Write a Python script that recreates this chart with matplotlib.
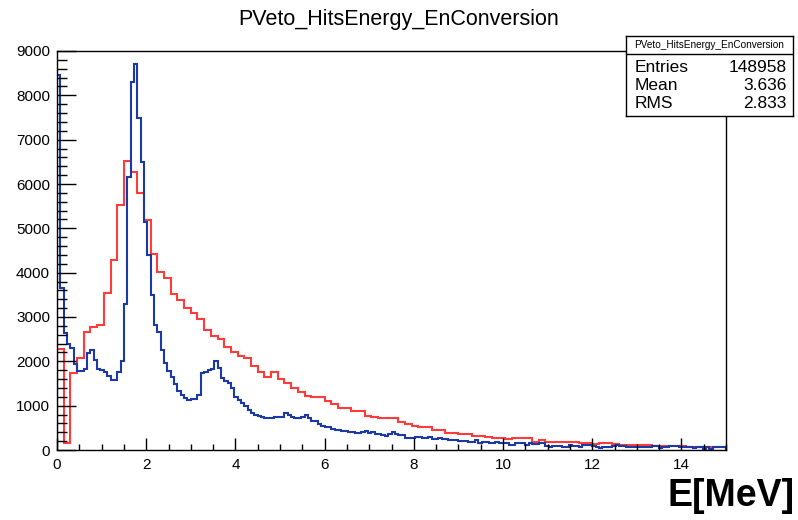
import numpy as np
import matplotlib
matplotlib.use("Agg")
import matplotlib.pyplot as plt

plt.rcParams['font.family'] = ['Liberation Sans', 'DejaVu Sans']

# histogram contents
red_counts = [2280, 150, 1730, 2070, 2670, 2780, 2820, 3540, 4290, 5520,
              6530, 6280, 5790, 5190, 4420, 4025, 3875, 3515, 3386, 3198,
              3085, 2950, 2709, 2573, 2498, 2332, 2219, 2122, 2070, 1896,
              1768, 1655, 1768, 1595, 1505, 1392, 1317, 1219, 1190, 1190,
              1106, 1032, 941, 941, 887, 887, 775, 738, 715, 715,
              715, 640, 580, 542, 512, 512, 451, 451, 391, 391,
              354, 354, 316, 316, 286, 264, 264, 250, 275, 270,
              265, 190, 225, 190, 185, 190, 185, 180, 150, 150,
              145, 150, 148, 145, 115, 112, 113, 110, 112, 95,
              92, 90, 88, 92, 78, 75, 76, 74, 75, 73]

blue_counts = [8450, 3650, 2650, 2400, 2300, 1950, 1780, 1780, 1820, 2180,
               2260, 2030, 1820, 1800, 1760, 1680, 1580, 1580, 1760, 2000,
               3300, 6150, 8290, 8710, 7480, 6500, 5150, 4400, 3500, 2820,
               2670, 2256, 1960, 1790, 1650, 1500, 1330, 1240, 1170, 1130,
               1150, 1160, 1240, 1730, 1750, 1800, 1830, 2015, 1842, 1617,
               1560, 1504, 1391, 1203, 1120, 1050, 993, 902, 842, 800,
               770, 752, 714, 714, 714, 752, 752, 752, 842, 790,
               737, 714, 714, 752, 790, 714, 654, 654, 580, 540,
               511, 511, 474, 451, 451, 429, 429, 410, 399, 390,
               376, 410, 420, 376, 414, 361, 361, 330, 323, 361,
               399, 361, 338, 338, 278, 278, 278, 301, 301, 263,
               263, 285, 241, 241, 263, 241, 241, 226, 226, 226,
               211, 211, 211, 188, 188, 226, 165, 180, 180, 150,
               150, 180, 150, 165, 165, 113, 113, 150, 150, 150,
               113, 150, 140, 128, 150, 150, 98, 75, 80, 98,
               90, 75, 75, 113, 98, 98, 75, 113, 113, 113,
               80, 75, 53, 75, 75, 60, 98, 113, 90, 90,
               75, 75, 60, 60, 75, 75, 60, 60, 90, 90,
               53, 75, 75, 98, 98, 90, 75, 75, 60, 60,
               38, 75, 60, 23, 75, 23, 75, 75, 75, 75]

x_min, x_max = 0, 15
title = "PVeto_HitsEnergy_EnConversion"
stats_names = ["Entries", "Mean", "RMS"]
stats_values = ["148958", "3.636", "2.833"]

W, H = 798, 520
fig = plt.figure(figsize=(W/100, H/100), dpi=100)
ax = fig.add_axes([57/W, 1-450/H, (726-57)/W, (450-51)/H])

red_edges = np.linspace(x_min, x_max, len(red_counts)+1)
blue_edges = np.linspace(x_min, x_max, len(blue_counts)+1)
ax.stairs(red_counts, red_edges, color="#ff3b3b", lw=1.5)
ax.stairs(blue_counts, blue_edges, color="#1c3aa6", lw=1.5)

ax.set_xlim(x_min, x_max)
ax.set_ylim(0, 9000)
ax.set_xticks(np.arange(0, 15, 2))
ax.set_xticks(np.arange(0, 15.01, 0.5), minor=True)
ax.set_yticks(np.arange(0, 9001, 1000))
ax.set_yticks(np.arange(0, 9001, 200), minor=True)
ax.tick_params(axis="x", which="major", direction="in", length=8.6, width=1, pad=6, labelsize=11)
ax.tick_params(axis="x", which="minor", direction="in", length=4.3, width=1)
ax.tick_params(axis="y", which="major", direction="in", length=14, width=1, pad=5, labelsize=11)
ax.tick_params(axis="y", which="minor", direction="in", length=7, width=1)
for s in ax.spines.values():
    s.set_linewidth(1.0)

fig.text(0.5, 1-20/H, title, ha="center", va="center", fontsize=15.5)
fig.text(795/W, 1-496/H, "E[MeV]", ha="right", va="center", fontsize=27, fontweight="bold")

# stats box
top, bot = 36, 116
sb = fig.add_axes([626/W, 1-bot/H, (793-626)/W, (bot-top)/H])
sb.set_xticks([])
sb.set_yticks([])
sb.set_zorder(5)
sb.set_facecolor("white")
for s in sb.spines.values():
    s.set_linewidth(1.0)
hdr = 1-(54-top)/(bot-top)
sb.axhline(hdr, color="black", lw=1.0)
sb.text(0.5, (1+hdr)/2, title, ha="center", va="center", fontsize=7.2)
rows_y = [68, 86, 104]
for name, val, yy in zip(stats_names, stats_values, rows_y):
    fy = 1-(yy-top)/(bot-top)
    sb.text(0.05, fy, name, ha="left", va="center", fontsize=12.5)
    sb.text(0.96, fy, val, ha="right", va="center", fontsize=12.5)

plt.savefig("out.png", dpi=100)
